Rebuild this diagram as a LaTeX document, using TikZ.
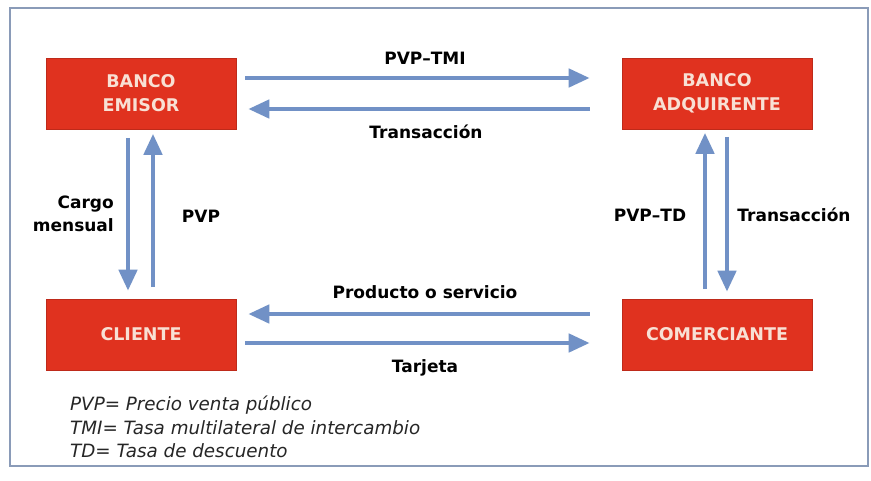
\documentclass[tikz,border=0pt]{standalone}
\usepackage{fontspec}
\setmainfont{DejaVu Sans}
\usetikzlibrary{arrows.meta}
\definecolor{boxred}{HTML}{E0321F}
\definecolor{boxtxt}{HTML}{F8E0D4}
\definecolor{arrblue}{HTML}{7191C6}
\definecolor{framecol}{HTML}{8A9BB8}
\tikzset{
  entity/.style={fill=boxred, draw=boxred!85!black, line width=0.6pt, minimum width=190pt, minimum height=71pt, inner sep=0pt, align=center, text=boxtxt, font=\fontsize{17.5}{24}\selectfont\bfseries},
  flow/.style={draw=arrblue, line width=4.5pt, -{Triangle[length=21pt,width=18pt]}},
  lbl/.style={font=\fontsize{17}{23}\selectfont\bfseries, text=black, inner sep=0pt},
  legend/.style={font=\fontsize{18.3}{23.5}\selectfont\itshape, text=black!85, align=left, anchor=north west, inner sep=0pt}
}
\begin{document}
\begin{tikzpicture}[x=1pt,y=-1pt]
\useasboundingbox (0,0) rectangle (871,480);
\fill[white] (0,0) rectangle (871,480);
\draw[framecol, line width=1.3pt] (10,8) rectangle (868,466);

\node[entity] (be) at (141,93.5) {BANCO\\EMISOR};
\node[entity] (ba) at (717,93.5) {BANCO\\ADQUIRENTE};
\node[entity] (cl) at (141,334.5) {CLIENTE};
\node[entity] (co) at (717,334.5) {COMERCIANTE};

% top
\draw[flow, shorten <=9pt, shorten >=32pt] ([yshift=15.5pt]be.east) -- ([yshift=15.5pt]ba.west);
\draw[flow, shorten <=32pt, shorten >=12pt] ([yshift=-15.5pt]ba.west) -- ([yshift=-15.5pt]be.east);
% bottom
\draw[flow, shorten <=32pt, shorten >=12pt] ([yshift=20.5pt]co.west) -- ([yshift=20.5pt]cl.east);
\draw[flow, shorten <=9pt, shorten >=32pt] ([yshift=-8.5pt]cl.east) -- ([yshift=-8.5pt]co.west);
% left
\draw[flow, shorten <=8.5pt, shorten >=8pt] ([xshift=-13pt]be.south) -- ([xshift=-13pt]cl.north);
\draw[flow, shorten <=11.5pt, shorten >=4.5pt] ([xshift=12pt]cl.north) -- ([xshift=12pt]be.south);
% right
\draw[flow, shorten <=9.5pt, shorten >=3.5pt] ([xshift=-12pt]co.north) -- ([xshift=-12pt]ba.south);
\draw[flow, shorten <=7.5pt, shorten >=7pt] ([xshift=10pt]ba.south) -- ([xshift=10pt]co.north);

\node[lbl] (l1) at (425,58) {PVP–TMI};
\node[lbl] (l2) at (426,132) {Transacción};
\node[lbl, align=right, anchor=east] (l3) at (114,214) {Cargo\\mensual};
\node[lbl] (l4) at (201,216) {PVP};
\node[lbl] (l5) at (650,215) {PVP–TD};
\node[lbl] (l6) at (794,215) {Transacción};
\node[lbl] (l7) at (425,292) {Producto o servicio};
\node[lbl] (l8) at (425,368) {Tarjeta};

\node[legend] (leg) at (70,396) {PVP= Precio venta público\\TMI= Tasa multilateral de intercambio\\TD= Tasa de descuento};
\end{tikzpicture}
\end{document}
